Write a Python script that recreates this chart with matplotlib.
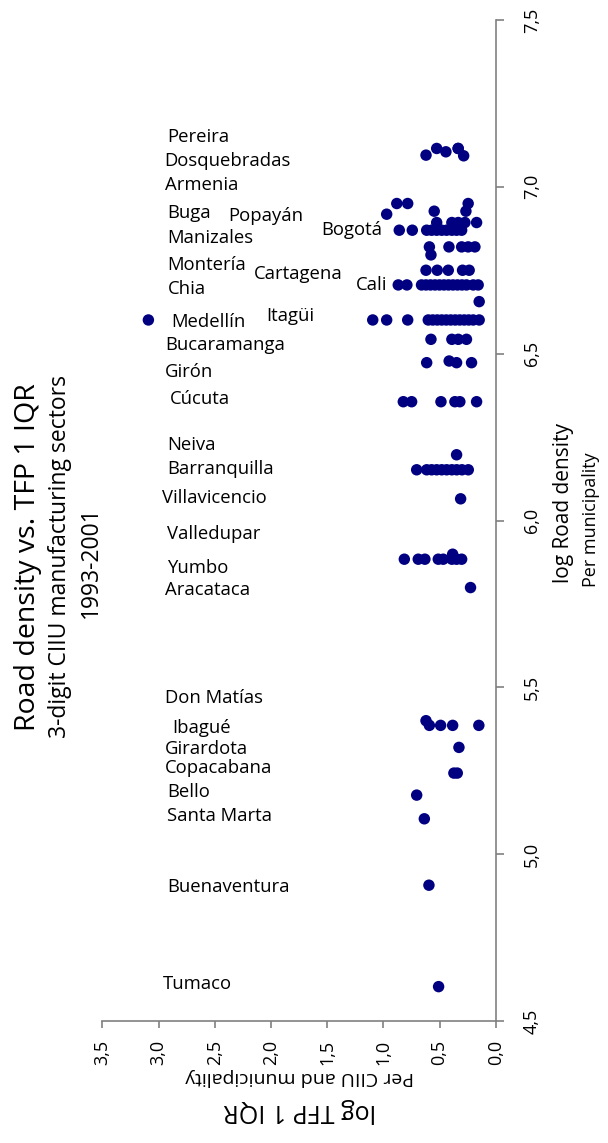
import matplotlib
matplotlib.use('Agg')
import matplotlib.pyplot as plt
from matplotlib.ticker import FuncFormatter

plt.rcParams['font.family'] = ['Open Sans', 'DejaVu Sans']

# ---------------- data ----------------
# each row: log road density (per municipality) and the log TFP 1 IQR values of its sectors
row_density = [7.095, 7.115, 7.105, 7.115, 7.093,
               6.918, 6.950, 6.927,
               6.870, 6.893,
               6.820, 6.796,
               6.750,
               6.706, 6.656,
               6.601,
               6.543, 6.473, 6.478, 6.356,
               6.197, 6.152, 6.065,
               5.884, 5.899, 5.799,
               5.400, 5.386, 5.320, 5.243, 5.177, 5.106, 4.907, 4.603]
row_tfp = [[0.62], [0.525, 0.334], [0.443], [0.334], [0.285],
           [0.97], [0.88, 0.783, 0.245], [0.547, 0.265],
           [0.858, 0.742, 0.614, 0.57, 0.525, 0.48, 0.437, 0.39, 0.348, 0.303],
           [0.525, 0.39, 0.333, 0.274, 0.17],
           [0.59, 0.416, 0.303, 0.245, 0.185], [0.576],
           [0.62, 0.52, 0.422, 0.295, 0.236],
           [0.867, 0.79, 0.66, 0.62, 0.58, 0.54, 0.50, 0.46, 0.42, 0.38, 0.34, 0.30, 0.26, 0.20, 0.156],
           [0.147],
           [3.09, 1.094, 0.97, 0.783, 0.60, 0.56, 0.52, 0.48, 0.44, 0.40, 0.36, 0.32, 0.28, 0.24, 0.20, 0.147],
           [0.576, 0.39, 0.333, 0.26], [0.614, 0.348, 0.215], [0.414], [0.822, 0.748, 0.487, 0.363, 0.319, 0.17],
           [0.348], [0.703, 0.614, 0.57, 0.525, 0.48, 0.436, 0.39, 0.347, 0.30, 0.244], [0.312],
           [0.813, 0.689, 0.63, 0.511, 0.467, 0.39, 0.348, 0.303], [0.383], [0.224],
           [0.62], [0.59, 0.49, 0.383, 0.15], [0.327], [0.372, 0.342], [0.703], [0.635], [0.594], [0.508]]

city_names = ['Pereira', 'Dosquebradas', 'Armenia', 'Buga', 'Popayán', 'Manizales', 'Bogotá',
              'Montería', 'Cartagena', 'Cali', 'Chia', 'Medellín', 'Itagüi', 'Bucaramanga',
              'Girón', 'Cúcuta', 'Neiva', 'Barranquilla', 'Villavicencio', 'Valledupar',
              'Yumbo', 'Aracataca', 'Don Matías', 'Ibagué', 'Girardota', 'Copacabana',
              'Bello', 'Santa Marta', 'Buenaventura', 'Tumaco']
# annotation anchor (left edge of text) in data units
label_tfp = [2.92, 2.95, 2.94, 2.92, 2.38, 2.92, 1.55, 2.92, 2.15, 1.24, 2.92, 2.89, 2.04, 2.94,
             2.94, 2.90, 2.92, 2.92, 2.97, 2.92, 2.92, 2.94, 2.94, 2.88, 2.94, 2.94, 2.92, 2.92,
             2.92, 2.96]
label_density = [7.150, 7.078, 7.006, 6.922, 6.912, 6.846, 6.870, 6.766, 6.740, 6.707, 6.695,
                 6.596, 6.614, 6.527, 6.446, 6.365, 6.225, 6.153, 6.066, 5.961, 5.859, 5.793,
                 5.467, 5.377, 5.314, 5.257, 5.186, 5.114, 4.901, 4.611]

x_ticks = [0.0, 0.5, 1.0, 1.5, 2.0, 2.5, 3.0, 3.5]
y_ticks = [4.5, 5.0, 5.5, 6.0, 6.5, 7.0, 7.5]

# ---------------- figure ----------------
W, H = 608, 1143
fig = plt.figure(figsize=(W / 100, H / 100), dpi=100)
ax = fig.add_axes([102.3 / W, 1 - 1021 / H, (495.7 - 102.3) / W, (1021 - 20) / H])

pts_x = [t for row in row_tfp for t in row]
pts_y = [d for d, row in zip(row_density, row_tfp) for _ in row]
ax.scatter(pts_x, pts_y, s=68, color='#000080', edgecolors='none', zorder=3, clip_on=False)

ax.set_xlim(3.5, 0.0)
ax.set_ylim(4.5, 7.5)
ax.set_xticks(x_ticks)
ax.set_yticks(y_ticks)
fmt = FuncFormatter(lambda v, p: f"{v:.1f}".replace('.', ','))
ax.xaxis.set_major_formatter(fmt)
ax.yaxis.set_major_formatter(fmt)

for s in ['left', 'top']:
    ax.spines[s].set_visible(False)
for s in ['right', 'bottom']:
    ax.spines[s].set_color('#808080')
    ax.spines[s].set_linewidth(1.2)

ax.yaxis.tick_right()
ax.tick_params(axis='y', direction='out', length=6, width=1.2, color='#808080',
               pad=13.5, labelsize=13, labelrotation=90)
ax.tick_params(axis='x', direction='out', length=5, width=1.2, color='#808080',
               pad=8.5, labelsize=13, labelrotation=90)
for lab in ax.get_yticklabels():
    lab.set_va('center')

for name, lx, ly in zip(city_names, label_tfp, label_density):
    ax.text(lx, ly, name, ha='left', va='center', fontsize=13.3, color='black', zorder=4)

# titles (rotated like the source)
fig.text(28 / W, 1 - 557 / H, 'Road density vs. TFP 1 IQR', rotation=90,
         ha='center', va='center', fontsize=20.5)
fig.text(60 / W, 1 - 557 / H, '3-digit CIIU manufacturing sectors', rotation=90,
         ha='center', va='center', fontsize=16.5)
fig.text(91 / W, 1 - 562 / H, '1993-2001', rotation=90,
         ha='center', va='center', fontsize=16.5)

fig.text(563 / W, 1 - 503 / H, 'log Road density', rotation=90,
         ha='center', va='center', fontsize=15)
fig.text(591 / W, 1 - 520 / H, 'Per municipality', rotation=90,
         ha='center', va='center', fontsize=13)

fig.text(300 / W, 1 - 1110 / H, 'log TFP 1 IQR', rotation=180,
         ha='center', va='center', fontsize=18)
fig.text(300 / W, 1 - 1077 / H, 'Per CIIU and municipality', rotation=180,
         ha='center', va='center', fontsize=14)

fig.savefig('out.png', dpi=100)
